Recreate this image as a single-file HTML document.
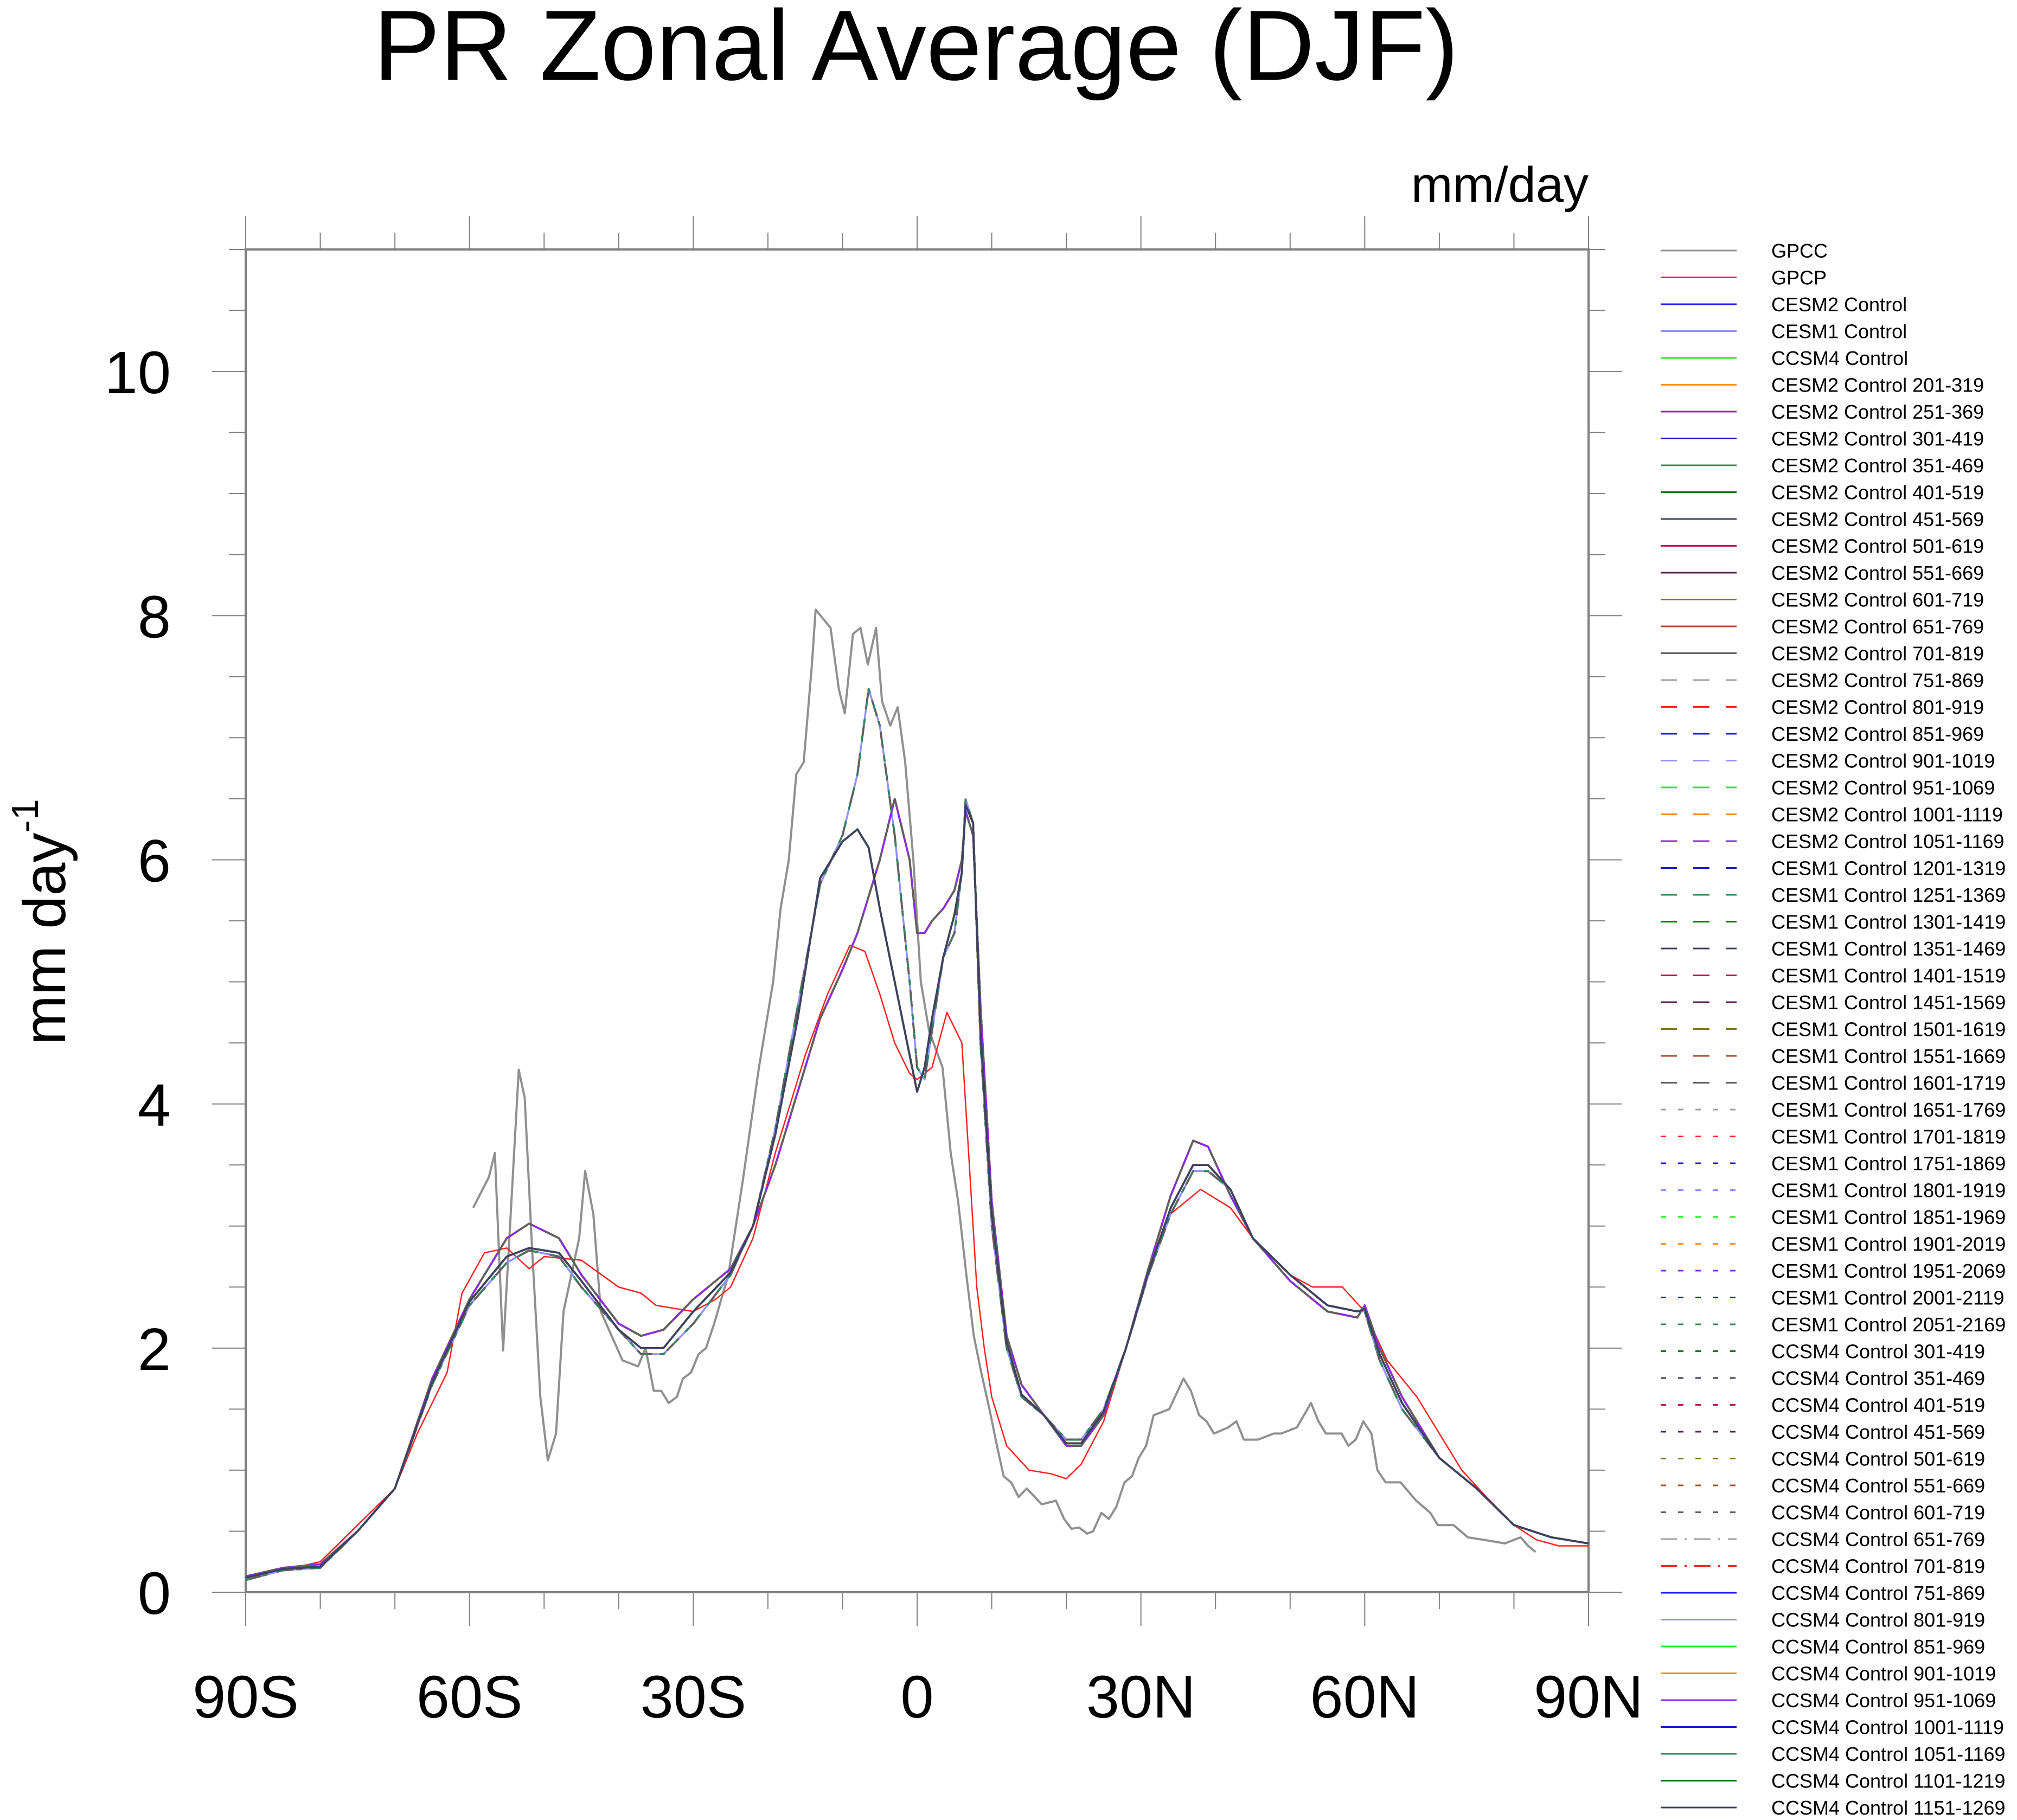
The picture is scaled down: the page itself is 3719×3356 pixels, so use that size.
<!DOCTYPE html>
<html><head><meta charset="utf-8">
<style>
html,body{margin:0;padding:0;background:#fff;}
svg{display:block;font-family:"Liberation Sans",sans-serif;}
</style></head>
<body>
<svg id="chart" width="3719" height="3356" viewBox="0 0 3719 3356" xmlns="http://www.w3.org/2000/svg">
<rect width="3719" height="3356" fill="#fff"/>
<text x="1689" y="147" font-size="184" text-anchor="middle" fill="#000">PR Zonal Average (DJF)</text>
<text x="2929" y="372" font-size="92" text-anchor="end" fill="#000">mm/day</text>
<text transform="translate(120,1700) rotate(-90)" font-size="110" text-anchor="middle" fill="#000">mm day<tspan font-size="70" dy="-50">-1</tspan></text>
<g id="axes"></g>
<g id="series"></g>
<g id="legend"></g>
</svg>
<script>
const latGPCC=[-59.5,-57.4,-56.6,-55.5,-53.4,-52.6,-51.6,-50.5,-49.5,-48.4,-47.4,-45.3,-44.5,-43.4,-42.4,-39.5,-37.4,-36.4,-35.3,-34.3,-33.3,-32.2,-31.4,-30.3,-29.3,-28.3,-27.2,-25.3,-23.3,-21.2,-19.3,-18.3,-17.2,-16.2,-15.2,-14.1,-13.6,-11.6,-10.5,-9.7,-8.6,-7.6,-6.6,-5.5,-4.7,-3.6,-2.6,-1.6,-0.5,0.5,1.6,3.4,4.5,5.5,6.6,7.6,8.6,9.7,10.7,11.6,12.6,13.6,14.7,16.7,18.6,19.7,20.7,21.7,22.8,23.6,24.7,25.7,26.7,27.8,28.8,29.7,30.7,31.7,33.8,35.7,36.7,37.8,38.8,39.8,41.7,42.8,43.8,45.7,47.8,48.8,50.9,52.8,53.8,54.8,56.9,57.8,58.8,59.8,60.9,61.7,62.8,64.8,66.9,68.8,69.8,71.9,73.8,76.9,78.8,80.9,81.9,82.9];
const valGPCC=[3.15,3.4,3.6,1.98,4.28,4.05,2.8,1.6,1.08,1.3,2.3,2.9,3.45,3.1,2.3,1.9,1.85,2.0,1.65,1.65,1.55,1.6,1.75,1.8,1.95,2.0,2.2,2.6,3.4,4.3,5.0,5.6,6.0,6.7,6.8,7.6,8.05,7.9,7.4,7.2,7.85,7.9,7.6,7.9,7.3,7.1,7.25,6.8,6.0,5.0,4.6,4.3,3.6,3.2,2.6,2.1,1.8,1.5,1.2,0.95,0.9,0.78,0.85,0.72,0.75,0.6,0.52,0.53,0.48,0.5,0.65,0.6,0.7,0.9,0.95,1.1,1.2,1.45,1.5,1.75,1.65,1.45,1.4,1.3,1.35,1.4,1.25,1.25,1.3,1.3,1.35,1.55,1.4,1.3,1.3,1.2,1.25,1.4,1.3,1.0,0.9,0.9,0.75,0.65,0.55,0.55,0.45,0.42,0.4,0.45,0.38,0.33];
const latGPCP=[-90,-85,-80,-75,-70,-67,-63,-61,-58,-55,-52,-50,-45,-40,-37,-35,-30,-27,-25,-22,-19,-15,-12,-9,-7,-5,-3,-1,0,2,4,6,7,8,9,10,12,15,18,20,22,25,28,31,34,38,42,45,50,53,57,60,63,67,70,73,76,80,83,86,90];
const valGPCP=[0.13,0.18,0.25,0.55,0.85,1.3,1.8,2.45,2.78,2.82,2.65,2.75,2.72,2.5,2.45,2.35,2.3,2.4,2.5,2.9,3.6,4.4,4.9,5.3,5.25,4.9,4.5,4.25,4.2,4.3,4.75,4.5,3.5,2.5,2.0,1.6,1.2,1.0,0.97,0.93,1.05,1.4,2.0,2.6,3.1,3.3,3.15,2.9,2.6,2.5,2.5,2.3,1.9,1.6,1.3,1.0,0.8,0.55,0.43,0.38,0.38];
const latModel=[-90,-85,-80,-75,-70,-65,-60,-55,-52,-48,-45,-40,-37,-34,-30,-25,-22,-19,-16,-13,-10,-8,-6.5,-5,-3,-1,0,1,2,3.5,5,6,6.5,7.5,8.5,10,12,14,17,20,22,25,28,31,34,37,39,42,45,50,55,59,60,62,65,70,75,80,85,90];
const valCESM1=[0.1,0.18,0.2,0.5,0.85,1.7,2.35,2.7,2.8,2.75,2.5,2.15,1.95,1.95,2.2,2.6,3.0,3.8,4.8,5.8,6.2,6.7,7.4,7.1,6.2,5.0,4.3,4.2,4.6,5.2,5.4,5.9,6.5,6.3,4.5,3.0,2.0,1.6,1.45,1.25,1.25,1.5,2.0,2.6,3.1,3.45,3.45,3.3,2.9,2.6,2.35,2.3,2.3,1.9,1.5,1.1,0.85,0.55,0.45,0.4];
const valCESM2=[0.13,0.2,0.23,0.5,0.85,1.75,2.4,2.9,3.02,2.9,2.6,2.2,2.1,2.15,2.4,2.65,3.0,3.5,4.1,4.7,5.1,5.4,5.7,6.0,6.5,6.0,5.4,5.4,5.5,5.6,5.75,6.0,6.4,6.2,4.8,3.2,2.1,1.7,1.45,1.2,1.2,1.45,2.0,2.65,3.25,3.7,3.65,3.25,2.9,2.55,2.3,2.25,2.35,2.0,1.6,1.1,0.85,0.55,0.45,0.4];
const valCCSM4=[0.12,0.19,0.21,0.5,0.85,1.72,2.38,2.75,2.82,2.78,2.55,2.15,2.0,2.0,2.3,2.62,3.0,3.75,4.7,5.85,6.15,6.25,6.1,5.6,5.0,4.4,4.1,4.3,4.7,5.2,5.55,5.9,6.45,6.3,4.6,3.1,2.05,1.62,1.45,1.22,1.22,1.48,2.0,2.62,3.15,3.5,3.5,3.3,2.9,2.6,2.35,2.3,2.32,1.95,1.55,1.1,0.85,0.55,0.45,0.4];
const xTickVals=[-90,-60,-30,0,30,60,90];
const xTickLabels=["90S","60S","30S","0","30N","60N","90N"];
const yTickVals=[0,2,4,6,8,10];
const yTickLabels=["0","2","4","6","8","10"];
const legendNames=["GPCC","GPCP","CESM2 Control","CESM1 Control","CCSM4 Control","CESM2 Control 201-319","CESM2 Control 251-369","CESM2 Control 301-419","CESM2 Control 351-469","CESM2 Control 401-519","CESM2 Control 451-569","CESM2 Control 501-619","CESM2 Control 551-669","CESM2 Control 601-719","CESM2 Control 651-769","CESM2 Control 701-819","CESM2 Control 751-869","CESM2 Control 801-919","CESM2 Control 851-969","CESM2 Control 901-1019","CESM2 Control 951-1069","CESM2 Control 1001-1119","CESM2 Control 1051-1169","CESM1 Control 1201-1319","CESM1 Control 1251-1369","CESM1 Control 1301-1419","CESM1 Control 1351-1469","CESM1 Control 1401-1519","CESM1 Control 1451-1569","CESM1 Control 1501-1619","CESM1 Control 1551-1669","CESM1 Control 1601-1719","CESM1 Control 1651-1769","CESM1 Control 1701-1819","CESM1 Control 1751-1869","CESM1 Control 1801-1919","CESM1 Control 1851-1969","CESM1 Control 1901-2019","CESM1 Control 1951-2069","CESM1 Control 2001-2119","CESM1 Control 2051-2169","CCSM4 Control 301-419","CCSM4 Control 351-469","CCSM4 Control 401-519","CCSM4 Control 451-569","CCSM4 Control 501-619","CCSM4 Control 551-669","CCSM4 Control 601-719","CCSM4 Control 651-769","CCSM4 Control 701-819","CCSM4 Control 751-869","CCSM4 Control 801-919","CCSM4 Control 851-969","CCSM4 Control 901-1019","CCSM4 Control 951-1069","CCSM4 Control 1001-1119","CCSM4 Control 1051-1169","CCSM4 Control 1101-1219","CCSM4 Control 1151-1269"];

const NS="http://www.w3.org/2000/svg";
const L=453,R=2929,T=460,B=2936,YMAX=11;
function xs(lat){return L+(lat+90)/180*(R-L);}
function ys(v){return B-v/YMAX*(B-T);}
function mk(tag,attrs,parent){const e=document.createElementNS(NS,tag);for(const k in attrs)e.setAttribute(k,attrs[k]);parent.appendChild(e);return e;}
const axes=document.getElementById('axes');
const frame=mk('rect',{x:L,y:T,width:R-L,height:B-T,fill:'none',stroke:'#808080','stroke-width':4},axes);


for(let lat=-90;lat<=90;lat+=10){
  const major=lat%30===0, len=major?62:31, x=xs(lat);
  const t1=mk('line',{x1:x,x2:x,y1:B,y2:B+len,stroke:'#808080','stroke-width':2},axes);
  
  
  const t2=mk('line',{x1:x,x2:x,y1:T,y2:T-len,stroke:'#808080','stroke-width':2},axes);
  
  
}
xTickVals.forEach((v,i)=>{
  const t=mk('text',{x:xs(v),y:3167,'font-size':110,'text-anchor':'middle',fill:'#000'},axes);
  t.textContent=xTickLabels[i];
  
  
});
for(let v=0;v<=YMAX+0.001;v+=0.5){
  const major=Math.abs(v%2)<0.001, len=major?62:31, y=ys(v);
  const t1=mk('line',{x1:L,x2:L-len,y1:y,y2:y,stroke:'#808080','stroke-width':2},axes);
  
  
  const t2=mk('line',{x1:R,x2:R+len,y1:y,y2:y,stroke:'#808080','stroke-width':2},axes);
  
  
}
yTickVals.forEach((v,i)=>{
  const t=mk('text',{x:315,y:ys(v)+40,'font-size':110,'text-anchor':'end',fill:'#000'},axes);
  t.textContent=yTickLabels[i];
  
  
});

const colors=['#a0a0a0','#ff2020','#1a1aff','#9090ff','#20ee20','#ff8c1a','#8a2be2','#1a1acc','#2e8b57','#0a7a0a','#404060','#c01050','#5a2050','#7a7a10','#a0522d','#606060'];
const dashes=['none','30 30','10 22','30 14 4 14'];
const series=document.getElementById('series');
const legend=document.getElementById('legend');
legendNames.forEach((name,i)=>{
  let lat,val,color,dash,w=3.5;
  if(i===0){lat=latGPCC;val=valGPCC;color='#909090';dash='none';w=4;}
  else if(i===1){lat=latGPCP;val=valGPCP;color='#ff2020';dash='none';w=2.5;}
  else{
    lat=latModel;
    val=name.startsWith('CESM2')?valCESM2:(name.startsWith('CESM1')?valCESM1:valCCSM4);
    color=colors[i%16];
    const grp=Math.floor(i/16);
    dash=(i>=50)?'none':dashes[grp];
  }
  const d=lat.map((la,k)=>(k?'L':'M')+xs(la).toFixed(1)+' '+ys(val[k]).toFixed(1)).join(' ');
  const p=mk('path',{d:d,fill:'none',stroke:color,'stroke-width':w,'stroke-dasharray':dash,'stroke-linejoin':'round'},series);
  
  
  const y=462+i*49.5;
  const g=mk('g',{},legend);
  
  
  mk('line',{x1:3062,x2:3202,y1:y,y2:y,stroke:color,'stroke-width':3,'stroke-dasharray':dash},g);
  const t=mk('text',{x:3266,y:y+13,'font-size':36,fill:'#000'},g);
  t.textContent=name;
});
</script>
</body></html>
